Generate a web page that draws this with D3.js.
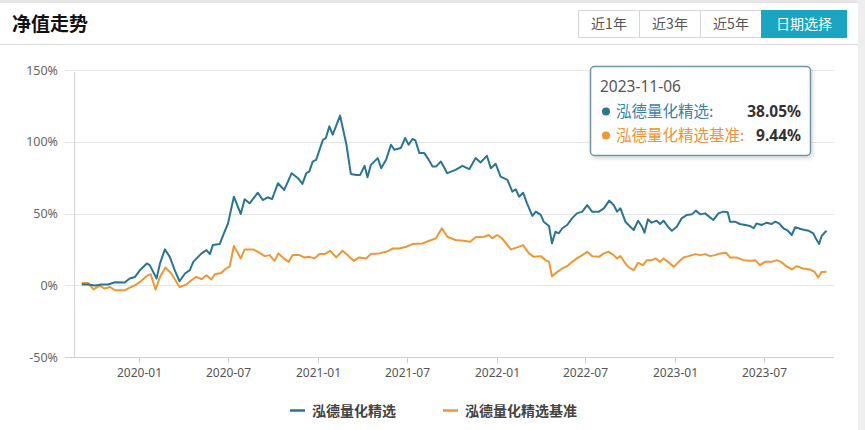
<!DOCTYPE html>
<html><head><meta charset="utf-8">
<script src="https://cdn.jsdelivr.net/npm/d3@7"></script>
<style>
html,body{margin:0;padding:0;background:#fff;}
svg{display:block;font-family:"Noto Sans","Noto Sans CJK SC",sans-serif;}
</style></head><body>
<div id="chart"></div>
<script>
const title = "净值走势";
const buttons = ["近1年","近3年","近5年","日期选择"];
const seriesNames = ["泓德量化精选","泓德量化精选基准"];
const colors = ["#2b7493","#ee9833"];
const yTicks = [-50,0,50,100,150];
const xTickLabels = ["2020-01","2020-07","2021-01","2021-07","2022-01","2022-07","2023-01","2023-07"];
const tooltipDate = "2023-11-06";
const tooltipValues = ["38.05%","9.44%"];

const fundDates = ["2019-09-06","2019-09-19","2019-10-03","2019-10-17","2019-10-30","2019-11-13","2019-12-03","2019-12-13","2019-12-24","2020-01-03","2020-01-17","2020-01-23","2020-02-06","2020-02-13","2020-02-23","2020-03-04","2020-03-14","2020-03-24","2020-04-04","2020-04-14","2020-04-21","2020-05-08","2020-05-18","2020-05-25","2020-05-31","2020-06-14","2020-06-24","2020-07-01","2020-07-13","2020-07-27","2020-08-04","2020-08-14","2020-08-31","2020-09-10","2020-09-20","2020-09-29","2020-10-11","2020-10-24","2020-11-08","2020-11-21","2020-11-30","2020-12-08","2020-12-14","2020-12-21","2020-12-28","2021-01-11","2021-01-17","2021-01-24","2021-01-31","2021-02-15","2021-02-28","2021-03-09","2021-03-20","2021-03-28","2021-04-06","2021-04-12","2021-04-19","2021-05-03","2021-05-10","2021-05-20","2021-05-30","2021-06-06","2021-06-19","2021-06-28","2021-07-05","2021-07-13","2021-07-19","2021-07-27","2021-08-06","2021-08-13","2021-08-23","2021-08-30","2021-09-09","2021-09-22","2021-10-09","2021-10-23","2021-11-06","2021-11-19","2021-11-29","2021-12-12","2021-12-20","2021-12-30","2022-01-09","2022-01-23","2022-02-02","2022-02-09","2022-02-16","2022-02-24","2022-03-04","2022-03-15","2022-03-22","2022-04-01","2022-04-07","2022-04-18","2022-04-24","2022-05-01","2022-05-08","2022-05-15","2022-05-25","2022-06-04","2022-06-14","2022-06-25","2022-07-05","2022-07-15","2022-07-29","2022-08-08","2022-08-19","2022-08-28","2022-09-04","2022-09-11","2022-09-21","2022-10-01","2022-10-08","2022-10-17","2022-10-25","2022-10-30","2022-11-06","2022-11-14","2022-11-24","2022-12-01","2022-12-08","2022-12-17","2022-12-25","2023-01-04","2023-01-14","2023-01-25","2023-02-04","2023-02-12","2023-02-21","2023-03-03","2023-03-13","2023-03-20","2023-03-30","2023-04-09","2023-04-18","2023-04-23","2023-05-03","2023-05-13","2023-05-24","2023-06-03","2023-06-10","2023-06-16","2023-06-26","2023-07-07","2023-07-17","2023-07-24","2023-08-01","2023-08-10","2023-08-19","2023-08-27","2023-09-03","2023-09-16","2023-09-30","2023-10-10","2023-10-15","2023-10-22","2023-10-27","2023-11-06"];
const fundValues = [0.5,0.5,-0.2,0.5,0.5,2.1,1.9,4.7,5.8,10.5,15.2,14,4.7,15.2,25,19.8,10.5,2.8,8.2,10.5,16.3,22.2,24.5,21.7,28,28.7,37.3,43.1,61.7,49.7,60,57.1,64.5,59.4,61.3,60,71.1,66.4,78.1,74.6,70.6,78.1,79.2,86.2,87.4,101.4,102.6,110.7,104.9,118.2,97.9,77.6,76.9,76.9,83.2,75.3,83.9,88.6,81.6,87.4,97.9,94.4,95.6,102.6,97.9,101.9,100.9,92.1,92.1,88.6,82.7,82.7,86.2,78.1,80.4,83.2,80.9,88.6,85.5,90.2,81.6,84.6,75.7,73.4,65.2,66.9,61.7,64.5,57.1,48.3,51.3,49,44.3,41.3,29.2,37.3,36.2,39.7,42,46.6,50.1,51.3,55.9,51.3,51.3,53.6,59,55.9,51.3,53.6,44.3,40.8,38.5,45,40.8,36.6,45.9,43.6,45,42.7,45,40.8,38,40.8,46.6,49,49.4,52,49.4,50.1,47.3,45.5,50.1,51.3,50.8,44.3,44.3,42.7,42,41.3,39.7,43.1,42,43.6,42.7,44.3,43.1,39.7,38,35,40.4,39,38,36.2,32.7,28.7,34.3,38.05];

const benchDates = ["2019-09-06","2019-09-19","2019-09-30","2019-10-13","2019-10-23","2019-11-03","2019-11-13","2019-12-03","2019-12-13","2019-12-24","2020-01-03","2020-01-17","2020-01-25","2020-02-04","2020-02-13","2020-02-24","2020-03-07","2020-03-24","2020-04-07","2020-04-17","2020-04-27","2020-05-08","2020-05-18","2020-05-28","2020-06-04","2020-06-17","2020-06-27","2020-07-04","2020-07-13","2020-07-27","2020-08-04","2020-08-21","2020-08-31","2020-09-14","2020-09-24","2020-10-04","2020-10-12","2020-10-23","2020-11-02","2020-11-10","2020-11-24","2020-12-04","2020-12-14","2020-12-24","2021-01-04","2021-01-14","2021-01-26","2021-02-07","2021-02-20","2021-03-02","2021-03-15","2021-03-26","2021-04-09","2021-04-19","2021-05-06","2021-05-20","2021-06-03","2021-06-16","2021-06-30","2021-07-13","2021-08-02","2021-08-16","2021-08-30","2021-09-11","2021-09-22","2021-10-09","2021-10-26","2021-11-08","2021-11-19","2021-12-06","2021-12-16","2021-12-23","2022-01-02","2022-01-12","2022-01-30","2022-02-12","2022-02-24","2022-03-08","2022-03-18","2022-04-01","2022-04-11","2022-04-18","2022-04-24","2022-05-05","2022-05-15","2022-05-25","2022-06-04","2022-06-14","2022-06-25","2022-07-05","2022-07-15","2022-07-29","2022-08-08","2022-08-18","2022-08-28","2022-09-04","2022-09-11","2022-09-21","2022-09-28","2022-10-08","2022-10-17","2022-10-27","2022-11-04","2022-11-14","2022-11-22","2022-12-01","2022-12-08","2022-12-17","2022-12-29","2023-01-08","2023-01-18","2023-01-28","2023-02-11","2023-02-21","2023-03-03","2023-03-13","2023-03-23","2023-04-03","2023-04-15","2023-04-23","2023-05-06","2023-05-20","2023-06-03","2023-06-13","2023-06-23","2023-07-03","2023-07-17","2023-07-27","2023-08-05","2023-08-16","2023-08-27","2023-09-06","2023-09-19","2023-10-03","2023-10-13","2023-10-20","2023-10-27","2023-11-06"];
const benchValues = [1.6,1.6,-2.8,-0.2,-2.3,-1.2,-3.5,-3.5,-1.6,0,2.3,6.5,7.7,-3,5.8,12.4,8.2,-1.2,0.5,3.5,5.8,4.2,7,4,7.7,8.6,11.7,12.8,27.3,18.7,25,25,23.3,20.3,21,17,22.2,18.7,16.3,21,21,19.4,19.8,18.7,21.7,21.7,24,19.4,24,21,17,19.4,18.7,21.7,22.2,23.3,25.6,25.6,26.8,28.7,29.1,31,32.7,39.7,33.8,31.5,31,30.3,33.4,33.8,35,32.7,35,32.7,25,26.4,28,22.2,19.8,20.3,17.5,16.3,6.3,9.3,11.7,13.3,16.3,18.7,21,23.3,20.3,19.8,22.2,23.3,21,18.7,20.3,15.2,12.4,10.5,15.6,14,17.5,17.5,18.7,16.3,18.7,16.3,12.8,16.3,19.4,20.3,21.7,21,21.7,20.3,21,22.2,22.6,19.4,19.4,17.5,17,17.5,14,16.3,16.3,17.5,16.3,13.3,11,13.3,11.7,11,9.3,5.4,9.3,9.44];

const W = 865, H = 430;
const parse = d3.timeParse("%Y-%m-%d");
const svg = d3.select("#chart").append("svg").attr("width", W).attr("height", H);

// frame
svg.append("rect").attr("x",0).attr("y",0).attr("width",W).attr("height",3).attr("fill","#e6e6e6");
svg.append("rect").attr("x",858).attr("y",0).attr("width",W-858).attr("height",H).attr("fill","#eeeeee");
svg.append("line").attr("x1",0).attr("x2",858).attr("y1",44.5).attr("y2",44.5).attr("stroke","#dcdcdc");

// header
svg.append("text").attr("x",12).attr("y",31).attr("font-size",19).attr("font-weight","bold")
  .attr("fill","#111").attr("font-family","'Noto Sans CJK SC',sans-serif").text(title);
const bx = d3.scaleOrdinal().domain(buttons).range([578,639,700,761]);
const bw = {"近1年":61,"近3年":61,"近5年":61,"日期选择":85};
const bg = svg.append("g");
buttons.forEach((b,i)=>{
  const active = i===buttons.length-1;
  bg.append("rect").attr("x",bx(b)+0.5).attr("y",10.5).attr("width",bw[b]).attr("height",27)
    .attr("fill",active?"#1ba5c2":"#fff").attr("stroke",active?"#1ba5c2":"#d6d6d6");
  bg.append("text").attr("x",bx(b)+bw[b]/2+0.5).attr("y",29).attr("text-anchor","middle")
    .attr("font-size",14).attr("fill",active?"#fff":"#555")
    .attr("font-family","'Noto Sans CJK SC',sans-serif").text(b);
});

// scales
const x = d3.scaleTime().domain([parse("2019-09-06"), parse("2023-11-06")]).range([81.7, 826.5]);
const y = d3.scaleLinear().domain([-50,150]).range([357,70]);
const plotL = 74, plotR = 834;

// grid
const grid = svg.append("g");
yTicks.forEach(t=>{
  grid.append("line").attr("x1",65).attr("x2",plotR).attr("y1",Math.round(y(t))+0.5).attr("y2",Math.round(y(t))+0.5)
    .attr("stroke", t===-50 ? "#cfcfcf" : "#e6e6e6");
  grid.append("text").attr("x",58).attr("y",y(t)+4.5).attr("text-anchor","end")
    .attr("font-size",12.5).attr("fill","#666").text(t+"%");
});
svg.append("line").attr("x1",plotL+0.5).attr("x2",plotL+0.5).attr("y1",72).attr("y2",357).attr("stroke","#d6d6d6");

// x axis
const xTickDates = xTickLabels.map(s=>parse(s+"-01"));
const xa = svg.append("g");
xTickDates.forEach((d,i)=>{
  const px = Math.round(x(d))+0.5;
  xa.append("line").attr("x1",px).attr("x2",px).attr("y1",357).attr("y2",363).attr("stroke","#cfcfcf");
  xa.append("text").attr("x",px).attr("y",377).attr("text-anchor","middle")
    .attr("font-size",12).attr("fill","#555").text(xTickLabels[i]);
});

// lines
const line = d3.line().x(d=>x(d[0])).y(d=>y(d[1])).curve(d3.curveLinear);
const fundData = fundDates.map((d,i)=>[parse(d), fundValues[i]]);
const benchData = benchDates.map((d,i)=>[parse(d), benchValues[i]]);
svg.append("path").datum(benchData).attr("d",line).attr("fill","none").attr("stroke",colors[1])
  .attr("stroke-width",2).attr("stroke-linejoin","round");
svg.append("path").datum(fundData).attr("d",line).attr("fill","none").attr("stroke",colors[0])
  .attr("stroke-width",2).attr("stroke-linejoin","round");

// legend
const lg = svg.append("g").attr("font-family","'Noto Sans CJK SC',sans-serif");
const legendX = [290, 443];
seriesNames.forEach((n,i)=>{
  lg.append("line").attr("x1",legendX[i]).attr("x2",legendX[i]+15).attr("y1",410.5).attr("y2",410.5)
    .attr("stroke",colors[i]).attr("stroke-width",2.5);
  lg.append("text").attr("x",legendX[i]+22).attr("y",415.5).attr("font-size",14).attr("font-weight","bold")
    .attr("fill","#444").text(n);
});

// tooltip
const defs = svg.append("defs");
const f = defs.append("filter").attr("id","sh").attr("x","-10%").attr("y","-10%").attr("width","130%").attr("height","140%");
f.append("feDropShadow").attr("dx",1).attr("dy",2).attr("stdDeviation",2).attr("flood-color","#000").attr("flood-opacity",0.18);
const tt = svg.append("g").attr("font-family","'Noto Sans CJK SC',sans-serif");
tt.append("rect").attr("x",590.5).attr("y",66.5).attr("width",220).attr("height",89).attr("rx",4)
  .attr("fill","#fff").attr("stroke","#6c98a6").attr("stroke-width",1.5).attr("filter","url(#sh)");
tt.append("text").attr("x",600).attr("y",92).attr("font-size",15.5).attr("fill","#555")
  .attr("font-family","'Noto Sans',sans-serif").text(tooltipDate);
const tColors = ["#3a83a6","#ec9238"];
seriesNames.forEach((n,i)=>{
  const yy = 117 + i*24;
  tt.append("circle").attr("cx",606).attr("cy",yy-5.5).attr("r",4).attr("fill",i===0?"#2b7493":"#ee9833");
  tt.append("text").attr("x",616).attr("y",yy).attr("font-size",15.5).attr("fill",tColors[i]).text(n+":");
  tt.append("text").attr("x",801).attr("y",yy).attr("text-anchor","end").attr("font-size",15.5)
    .attr("font-weight","bold").attr("fill","#333").attr("font-family","'Noto Sans',sans-serif").text(tooltipValues[i]);
});
</script>
</body></html>
